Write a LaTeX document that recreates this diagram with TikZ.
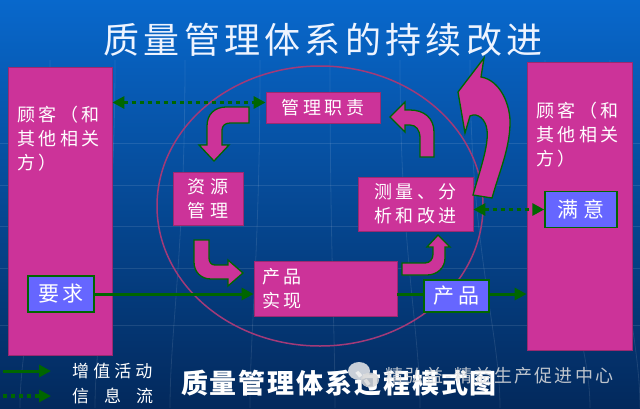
\documentclass[tikz,border=0pt]{standalone}
\usepackage{fontspec}
\setmainfont{Noto Sans CJK SC}
\usetikzlibrary{arrows.meta}
\definecolor{bgtop}{HTML}{0868CC}
\definecolor{bgmid}{HTML}{074C9E}
\definecolor{bgbot}{HTML}{03295C}
\definecolor{mag}{HTML}{CC3399}
\definecolor{magline}{HTML}{9A2A70}
\definecolor{blu}{HTML}{6666FF}
\definecolor{grn}{HTML}{006600}
\definecolor{ell}{HTML}{A33A78}
\definecolor{ttl}{HTML}{EEF4FF}
\newcommand\bxfont{\fontsize{18}{24}\selectfont\addfontfeatures{LetterSpace=20}}
\newcommand\bbfont{\fontsize{21}{24}\selectfont\addfontfeatures{LetterSpace=15}}
\begin{document}
\begin{tikzpicture}[x=1pt,y=-1pt,
  bigbox/.style={draw=magline,fill=mag,line width=0.8pt,inner sep=0pt},
  pbox/.style={draw=magline,fill=mag,line width=0.8pt,text=white,inner sep=0pt,font=\bxfont,align=center},
  bbox/.style={draw=grn,fill=blu,line width=1.5pt,text=white,inner sep=0pt,font=\bbfont},
  flow/.style={draw=grn,line width=3pt,-{Triangle[length=12pt,width=12pt]}},
  info/.style={draw=grn,line width=3.5pt,dash pattern=on 4pt off 4pt,{Triangle[length=12pt,width=12pt]}-{Triangle[length=12pt,width=12pt]}},
  infoone/.style={draw=grn,line width=3.5pt,dash pattern=on 4pt off 4pt,-{Triangle[length=12pt,width=12pt]}},
  blockarrow/.style={fill=mag,draw=grn,line width=1.3pt,line join=miter},
  gridline/.style={draw=white,opacity=0.10,line width=0.8pt},
  txt/.style={text=white,inner sep=0pt}]
\useasboundingbox (0,0) rectangle (640,408);
\shade[top color=bgtop,middle color=bgmid,bottom color=bgbot] (0,0) rectangle (640,408);
% faint background grid
\foreach \yy in {143,185,226,268,325} \draw[gridline] (0,\yy) -- (640,\yy);
\foreach \xx/\bb in {50/20,115/95,185/170,260/250,330/335,400/420,470/500,545/590,610/640} \draw[gridline] (\xx,60) .. controls (\xx,250) and (\bb,330) .. (\bb,408);
% title
\node[text=ttl,inner sep=0pt,font=\fontsize{36}{40}\selectfont\addfontfeatures{LetterSpace=12}] (title) at (323,40) {质量管理体系的持续改进};
% big side boxes
\node[bigbox,minimum width=104pt,minimum height=288pt] (lbox) at (60,211) {};
\node[bigbox,minimum width=105pt,minimum height=288pt] (rbox) at (579.5,206) {};
\node[txt,anchor=west,align=left,font=\bxfont] (ltxt) at (17,139) {顾客（和\\其他相关\\方）};
\node[txt,anchor=west,align=left,font=\bxfont] (rtxt) at (536,135) {顾客（和\\其他相关\\方）};
% ellipse
\draw[ell,line width=1.5pt] (320,206) ellipse [x radius=163pt,y radius=140pt];
% process boxes
\node[pbox,minimum width=114pt,minimum height=31pt] (mgmt) at (323,107.5) {管理职责};
\node[pbox,minimum width=70pt,minimum height=53pt] (res) at (208,198.5) {资\hspace{6pt}源\\管\hspace{6pt}理};
\node[pbox,minimum width=115pt,minimum height=54pt] (meas) at (415.5,204) {测量、分\\析和改进};
\node[pbox,minimum height=55pt,text width=127pt,inner xsep=8pt,align=left] (real) at (325.5,288.5) {产品\\实现};
% blue boxes
\node[bbox,minimum width=66pt,minimum height=36pt] (req) at (61,294) {要求};
\node[bbox,minimum width=65pt,minimum height=32pt] (prod) at (456.5,296) {产品};
\node[bbox,minimum width=72pt,minimum height=36pt] (sat) at (581,209.5) {满\hspace{5pt}意};
% flows
\coordinate (mgw) at ([yshift=5pt]mgmt.west);
\draw[flow] (req.east) -- (req.east -| real.west);
\draw[grn,line width=3pt] (real.east |- req.east) -- (prod.west |- req.east);
\draw[flow] (prod.east |- req.east) -- (rbox.west |- req.east);
\draw[info] (lbox.east |- mgw) -- (mgw);
\draw[info] (meas.east |- sat.west) -- (sat.west);
% curved block arrows
\draw[blockarrow] (249,107) -- (226,107) .. controls (215,107) and (207,114) .. (207,126) -- (207,145) -- (199,145) -- (214,161) -- (229,145) -- (222,145) -- (222,130) .. controls (222,126) and (225,123) .. (230,123) -- (249,123) -- cycle;
\draw[blockarrow] (420,157) -- (420,138) .. controls (420,130) and (416,125) .. (410,125) -- (405,125) -- (405,132) -- (390,117) -- (405,102) -- (405,110) -- (410,110) .. controls (424,110) and (434,118) .. (434,132) -- (434,157) -- cycle;
\draw[blockarrow] (194,240) -- (194,262) .. controls (194,272) and (201,279) .. (211,279) -- (228,279) -- (228,286) -- (243,273) -- (228,260) -- (228,265) -- (215,265) .. controls (211,265) and (209,262) .. (209,258) -- (209,240) -- cycle;
\draw[blockarrow] (402,263) -- (425,263) .. controls (430,263) and (433,259) .. (433,254) -- (433,247) -- (427,247) -- (438,235) -- (450,247) -- (445,247) -- (445,258) .. controls (445,268) and (437,275) .. (427,275) -- (402,275) -- cycle;
\draw[blockarrow] (484,58) -- (481,77) .. controls (500,80) and (511,105) .. (510,125) .. controls (509,150) and (500,170) .. (492,198) -- (473,195) .. controls (480,170) and (489,145) .. (487,130) .. controls (486,120) and (478,112) .. (470,116) -- (465,133) -- (458,92) -- cycle;
% legend
\coordinate (lg1a) at (3,371); \coordinate (lg1b) at (51,371);
\coordinate (lg2a) at (3,396); \coordinate (lg2b) at (51,396);
\draw[flow] (lg1a) -- (lg1b);
\draw[infoone] (lg2a) -- (lg2b);
\node[txt,anchor=west,font=\fontsize{17}{20}\selectfont\addfontfeatures{LetterSpace=24}] (lgt1) at (72,371) {增值活动};
\node[txt,anchor=west,font=\fontsize{17}{20}\selectfont] (lgt2) at (72,396) {信\hspace{15pt}息\hspace{15pt}流};
% bottom title
\node[txt,font=\fontsize{27}{30}\selectfont\bfseries\addfontfeatures{LetterSpace=7}] (subtitle) at (339,383) {质量管理体系过程模式图};
% watermark
\fill[gray!15,opacity=0.85] (359,371) ellipse [x radius=11pt,y radius=9pt];
\fill[gray!30,opacity=0.85] (370,380) ellipse [x radius=9pt,y radius=7.5pt];
\node[text=gray!25,opacity=0.85,inner sep=0pt,anchor=west,font=\fontsize{18}{20}\selectfont\addfontfeatures{LetterSpace=12}] (wm) at (385,376) {精弘益-精益生产促进中心};
\end{tikzpicture}
\end{document}
